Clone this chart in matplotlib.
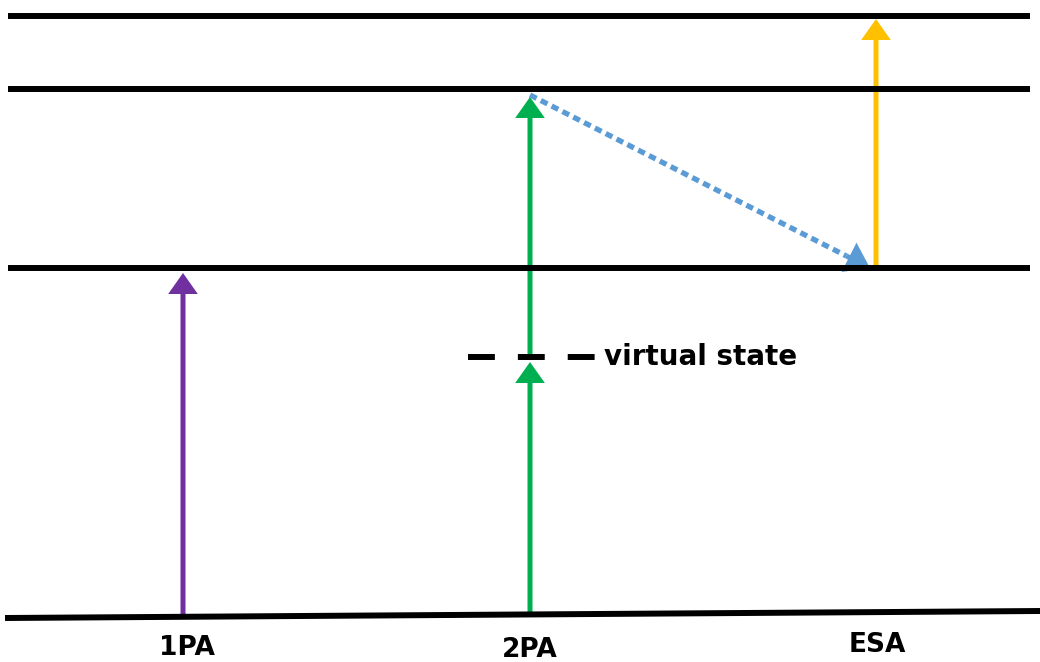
import matplotlib.pyplot as plt
from matplotlib.patches import FancyArrowPatch

# energy scale: 0 at bottom of figure, 662 at top (pixel-like units)
level_names = ["ground", "S1", "S2", "S3"]
level_left = [44, 394, 573, 646]
level_right = [51, 394, 573, 646]
level_x0 = [5, 8, 8, 8]
level_x1 = [1040, 1030, 1030, 1030]

virtual_state = 305
virtual_x = [468, 597]

labels = ["1PA", "2PA", "ESA"]
label_x = [187, 530, 877]
label_y = [14, 12, 17]

# (x_start, y_start, x_end, y_end, colour, style)
transitions = [
    (183, 46, 183, 389, "#7030A0", "-"),
    (530, 46, 530, 300, "#00B050", "-"),
    (530, 305, 530, 565, "#00B050", "-"),
    (530, 567, 870, 394, "#5B9BD5", ":"),
    (876, 394, 876, 643, "#FFC000", "-"),
]


def arrow(p0, p1, col, hl=0.85, hw=0.6):
    a = FancyArrowPatch(p0, p1, arrowstyle=f"-|>,head_length={hl},head_width={hw}",
                        mutation_scale=12, color=col, lw=3.6, shrinkA=0, shrinkB=0)
    a.set_joinstyle("miter")
    a.set_capstyle("butt")
    ax.add_patch(a)


fig = plt.figure(figsize=(10.4, 6.62), dpi=100)
ax = fig.add_axes([0, 0, 1, 1])
ax.set_xlim(0, 1040)
ax.set_ylim(0, 662)
ax.axis("off")

for x0, x1, yl, yr in zip(level_x0, level_x1, level_left, level_right):
    ax.plot([x0, x1], [yl, yr], color="black", lw=4.3, solid_capstyle="butt")

for xs, ys, xe, ye, col, ls in transitions:
    if ls == ":":
        # dotted shaft, solid head
        f = 0.93
        xm, ym = xs + (xe - xs) * f, ys + (ye - ys) * f
        ax.plot([xs, xm], [ys, ym], color=col, lw=3.8,
                linestyle=(0, (1.4, 0.9)), dash_capstyle="butt")
        arrow((xm, ym), (xe, ye), col, hl=1.0, hw=0.7)
    else:
        arrow((xs, ys), (xe, ye), col)

ax.plot(virtual_x, [virtual_state, virtual_state], color="black", lw=4.3,
        linestyle=(0, (4.5, 3.85)), dash_capstyle="butt", zorder=5)
ax.text(virtual_x[1] + 7, virtual_state, "virtual state", fontsize=20,
        fontweight="bold", va="center", ha="left")

for lab, x, y in zip(labels, label_x, label_y):
    ax.text(x, y, lab, fontsize=19, fontweight="bold", ha="center", va="center")

fig.savefig("out.png", dpi=100)
